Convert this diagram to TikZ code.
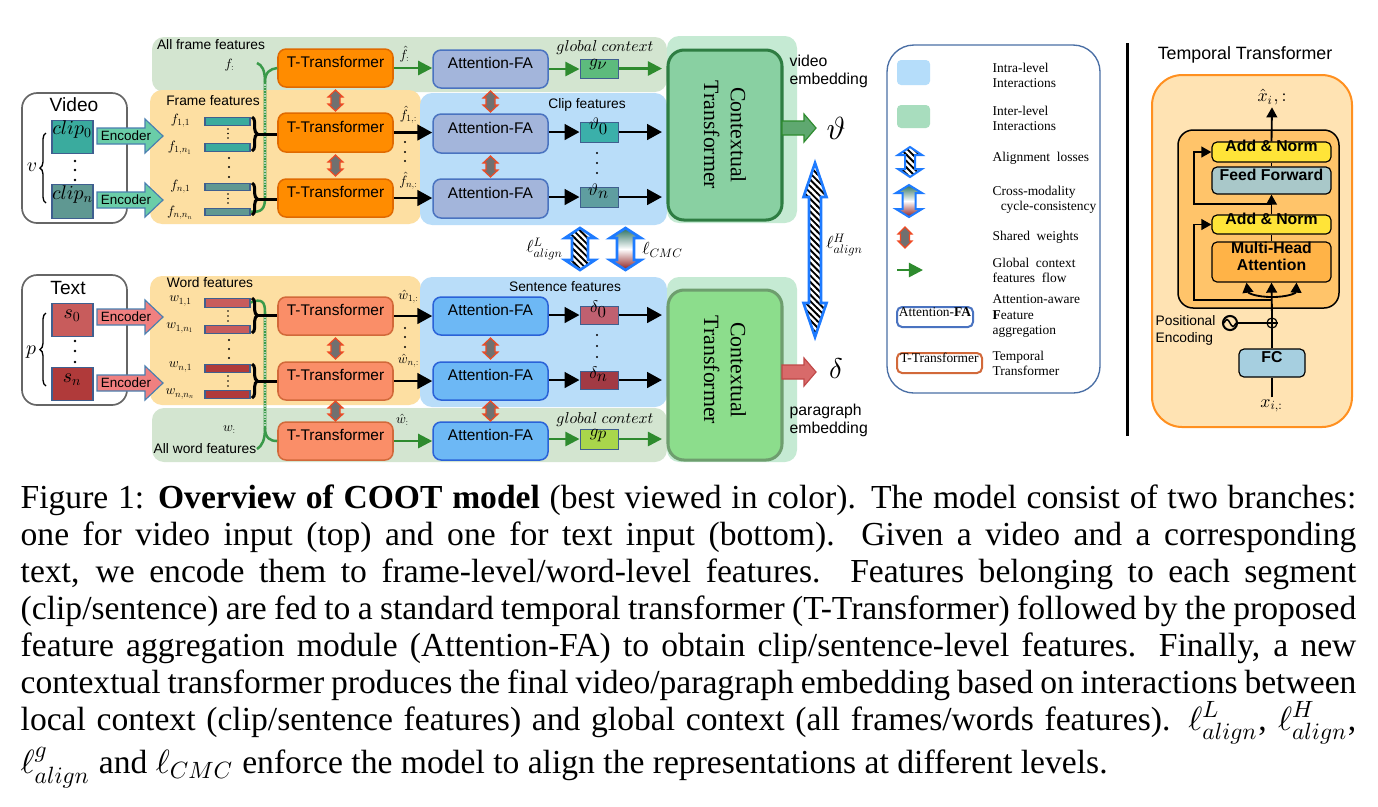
\documentclass[tikz,border=0pt]{standalone}
\usepackage[no-math]{fontspec}
\setmainfont{Liberation Serif}
\setsansfont{Liberation Sans}
\DeclareFontShape{OML}{cmm}{m}{it}{<->cmmi10}{}
\DeclareFontShape{OML}{cmm}{b}{it}{<->cmmib10}{}
\DeclareFontShape{OT1}{cmr}{m}{n}{<->cmr10}{}
\DeclareFontShape{OMS}{cmsy}{m}{n}{<->cmsy10}{}
\DeclareFontShape{OMX}{cmex}{m}{n}{<->cmex10}{}
\usetikzlibrary{arrows.meta,decorations.pathreplacing,patterns,fit,calc}
\pgfdeclarepatternformonly{mystripes}{\pgfqpoint{-1pt}{-1pt}}{\pgfqpoint{3pt}{3pt}}{\pgfqpoint{1.9pt}{1.9pt}}{\pgfsetlinewidth{0.55pt}\pgfpathmoveto{\pgfqpoint{-0.1pt}{2.0pt}}\pgfpathlineto{\pgfqpoint{2.0pt}{-0.1pt}}\pgfusepath{stroke}}
\definecolor{bandgreen}{HTML}{D3E5D0}
\definecolor{bandorange}{HTML}{FDDFA2}
\definecolor{bandblue}{HTML}{B9DDF9}
\definecolor{bandct}{HTML}{C5EAD3}
\definecolor{ctAf}{HTML}{89D0A2}
\definecolor{ctAd}{HTML}{2E7D42}
\definecolor{ctBf}{HTML}{8CDD8C}
\definecolor{ctBd}{HTML}{6E9E6E}
\definecolor{ttAf}{HTML}{FF8C00}
\definecolor{ttAd}{HTML}{E06A00}
\definecolor{ttBf}{HTML}{FA8E68}
\definecolor{ttBd}{HTML}{D2693A}
\definecolor{afaAf}{HTML}{A3B5DB}
\definecolor{afaAd}{HTML}{4A73C0}
\definecolor{afaBf}{HTML}{6DB8F5}
\definecolor{afaBd}{HTML}{2A62D8}
\definecolor{clipA}{HTML}{3AAB9E}
\definecolor{clipB}{HTML}{5F9892}
\definecolor{sentA}{HTML}{C85C5C}
\definecolor{sentB}{HTML}{B03A3A}
\definecolor{boxedge}{HTML}{3F5F8F}
\definecolor{encteal}{HTML}{6ACDA8}
\definecolor{encred}{HTML}{F08080}
\definecolor{encedge}{HTML}{4A7FB0}
\definecolor{globg}{HTML}{2E8B2E}
\definecolor{gcurve}{HTML}{3A9A4A}
\definecolor{gnu}{HTML}{5DBB7D}
\definecolor{vtA}{HTML}{3BB0AA}
\definecolor{vtB}{HTML}{5F9EA0}
\definecolor{dlA}{HTML}{C06070}
\definecolor{dlB}{HTML}{A23A44}
\definecolor{gpc}{HTML}{A9D64B}
\definecolor{outg}{HTML}{5FA870}
\definecolor{outr}{HTML}{D86A6A}
\definecolor{outrd}{HTML}{C04848}
\definecolor{alignblue}{HTML}{1E7BFF}
\definecolor{cmctop}{HTML}{2A7060}
\definecolor{cmcbot}{HTML}{8B1A1A}
\definecolor{shgrey}{HTML}{707070}
\definecolor{shred}{HTML}{F04A24}
\definecolor{legblue}{HTML}{B5DDFA}
\definecolor{leggreen}{HTML}{A8DDBE}
\definecolor{legedge}{HTML}{4A6FA5}
\definecolor{tpout}{HTML}{FFE3B3}
\definecolor{tpoutd}{HTML}{FF9020}
\definecolor{tpin}{HTML}{FFC46A}
\definecolor{addn}{HTML}{FFE438}
\definecolor{ffc}{HTML}{A9C8C9}
\definecolor{mhac}{HTML}{FFB347}
\definecolor{fcc}{HTML}{A6CFE0}
\newcommand\sansbox{\sffamily\fontsize{4.6pt}{5.5pt}\selectfont}
\newcommand\sanslab{\sffamily\fontsize{4.1pt}{4.9pt}\selectfont}
\newcommand\encf{\sffamily\fontsize{4.0pt}{4.8pt}\selectfont}
\newcommand\titlef{\sffamily\fontsize{5.7pt}{6.8pt}\selectfont}
\newcommand\embf{\sffamily\fontsize{4.7pt}{5.4pt}\selectfont}
\newcommand\ctf{\rmfamily\fontsize{6.5pt}{8pt}\selectfont}
\newcommand\legf{\rmfamily\fontsize{4.0pt}{4.5pt}\selectfont}
\newcommand\tpbold{\sffamily\bfseries\fontsize{4.7pt}{5.3pt}\selectfont}
\newcommand\tptitle{\sffamily\fontsize{5.3pt}{6pt}\selectfont}
\newcommand\mathlab{\fontsize{4.0pt}{4.8pt}\selectfont}
\newcommand\mathbox{\fontsize{5.0pt}{6pt}\selectfont}
\newcommand\clipf{\fontsize{5.9pt}{7pt}\selectfont}
\newcommand\lossf{\fontsize{5.2pt}{6pt}\selectfont}
\newcommand\gcf{\fontsize{4.7pt}{5.6pt}\selectfont}
\newcommand\capfont{\rmfamily\fontsize{10pt}{11pt}\selectfont}
\newcommand\capline[1]{\hbox to\hsize{#1}}
\newcommand\blockarrow[7]{\draw[#1] (#2,{#4-#5}) -- ({#3-#7},{#4-#5}) -- ({#3-#7},{#4-#6}) -- (#3,#4) -- ({#3-#7},{#4+#6}) -- ({#3-#7},{#4+#5}) -- (#2,{#4+#5}) -- cycle;}
\newcommand\dblarrow[7]{\path[#1] (#2,#3) -- ({#2+#6},{#3+#7}) -- ({#2+#5},{#3+#7}) -- ({#2+#5},{#4-#7}) -- ({#2+#6},{#4-#7}) -- (#2,#4) -- ({#2-#6},{#4-#7}) -- ({#2-#5},{#4-#7}) -- ({#2-#5},{#3+#7}) -- ({#2-#6},{#3+#7}) -- cycle;}
\tikzset{
 band/.style={rounded corners=3.6pt},
 inbox/.style={draw=black!60, line width=0.5pt, rounded corners=4.5pt, inner sep=0pt},
 ttA/.style={draw=ttAd, fill=ttAf, line width=0.45pt, rounded corners=2.4pt, inner sep=0pt, font=\sansbox},
 ttB/.style={ttA, draw=ttBd, fill=ttBf},
 afaA/.style={ttA, draw=afaAd, fill=afaAf},
 afaB/.style={ttA, draw=afaBd, fill=afaBf},
 smallbox/.style={draw=boxedge, line width=0.3pt, inner sep=0pt, font=\mathbox},
 bar/.style={draw=boxedge, line width=0.3pt, inner sep=0pt},
 ctbox/.style={line width=0.9pt, rounded corners=4.8pt, inner sep=0pt},
 mlab/.style={font=\mathlab, inner sep=0.5pt},
 blk/.style={line width=0.8pt, -{Triangle[length=4.4pt,width=4.6pt]}},
 grn/.style={draw=globg, line width=0.7pt, -{Triangle[length=4.2pt,width=4.2pt]}},
 brk/.style={decorate, decoration={brace, amplitude=1.6pt}, line width=0.9pt},
 lbrk/.style={decorate, decoration={brace, amplitude=1.8pt}, line width=0.4pt},
 gline/.style={draw=gcurve, line width=0.75pt},
 gdots/.style={draw=gcurve!40!white, line width=0.3pt, dash pattern=on 0.4pt off 0.4pt},
 shw/.style={fill=shgrey, draw=shred, line width=0.35pt},
 hatch/.style={preaction={fill=white}, pattern=mystripes, draw=alignblue, line width=0.8pt},
 cmc/.style={top color=cmctop, bottom color=cmcbot, middle color=white, draw=alignblue, line width=0.8pt},
 tl/.style={line width=0.55pt},
 tarr/.style={tl, -{Triangle[length=3pt,width=3.2pt]}},
 tpbox/.style={draw=black, line width=0.35pt, rounded corners=1.5pt, inner sep=0pt, font=\tpbold, align=center},
 legtext/.style={anchor=west, align=left, font=\legf, inner sep=0pt},
}
\begin{document}
\begin{tikzpicture}[x=0.2976pt,y=-0.2976pt]
\useasboundingbox (0,0) rectangle (1378,806);
\fill[white] (0,0) rectangle (1378,806);
% ---------------- bands
\fill[bandgreen,band] (152,37) rectangle (667,92);
\fill[bandgreen,band] (152,408) rectangle (667,462);
\fill[bandorange,band] (150,90) rectangle (421,224);
\fill[bandorange,band] (150,276) rectangle (421,405);
\fill[bandblue,band] (420,93) rectangle (667,225);
\fill[bandblue,band] (420,277) rectangle (667,407);
\fill[bandct,band] (667,36) rectangle (797,223);
\fill[bandct,band] (667,277) rectangle (797,462);
% ---------------- band labels
\node[font=\sanslab] (lallf) at (211,45) {All frame features};
\node[font=\sanslab] (lframe) at (213,101) {Frame features};
\node[font=\sanslab] (lclip) at (587,105) {Clip features};
\node[font=\sanslab] (lword) at (210,283) {Word features};
\node[font=\sanslab] (lsent) at (565,287) {Sentence features};
\node[font=\sanslab] (lallw) at (205,449) {All word features};
\node[mlab] (fcol) at (230,65) {$f_{:}$};
\node[mlab] (wcol) at (230,430) {$w_{:}$};
% ---------------- video input
\node[inbox, fit={(22,93)(127,223)}] (videobox) {};
\node[font=\titlef] (tvideo) at (74,105) {Video};
\node[smallbox, fill=clipA, fit={(52,120)(93,153)}, font=\clipf] (clip0) {$clip_0$};
\node[smallbox, fill=clipB, fit={(52,184)(93,218)}, font=\clipf] (clipn) {$clip_n$};
\foreach \yy in {161,170,180} \fill (75,\yy) circle (1.3);
\draw[lbrk] (46,203) -- (46,133);
\node[font=\clipf] (vlab) at (32,167) {$v$};
% ---------------- text input
\node[inbox, fit={(22,275)(127,405)}] (textbox) {};
\node[font=\titlef] (ttext) at (68,288) {Text};
\node[smallbox, fill=sentA, fit={(52,303)(93,336)}, font=\clipf] (s0) {$s_0$};
\node[smallbox, fill=sentB, fit={(52,367)(93,400)}, font=\clipf] (sn) {$s_n$};
\foreach \yy in {341,351,362} \fill (75,\yy) circle (1.3);
\draw[lbrk] (46,386) -- (46,313);
\node[font=\clipf] (plab) at (31,352) {$p$};
% ---------------- encoders
\blockarrow{fill=encteal, draw=encedge, line width=0.35pt}{97}{163}{136}{8}{17}{18}
\blockarrow{fill=encteal, draw=encedge, line width=0.35pt}{97}{163}{200}{8}{17}{18}
\blockarrow{fill=encred, draw=encedge, line width=0.35pt}{97}{163}{317}{8}{17}{18}
\blockarrow{fill=encred, draw=encedge, line width=0.35pt}{97}{163}{383}{8}{17}{18}
\node[font=\encf] (enc1) at (126,136) {Encoder};
\node[font=\encf] (enc2) at (126,200) {Encoder};
\node[font=\encf] (enc3) at (126,317) {Encoder};
\node[font=\encf] (enc4) at (126,383) {Encoder};
% ---------------- frame feature bars
\node[bar, fill=clipA, fit={(205,117)(250,125)}] (f11) {};
\node[bar, fill=clipA, fit={(205,143)(250,151)}] (f1n) {};
\node[bar, fill=clipB, fit={(205,183)(250,190)}] (fn1) {};
\node[bar, fill=clipB, fit={(205,208)(250,215)}] (fnn) {};
\node[mlab] (lf11) at (181,121) {$f_{1,1}$};
\node[mlab] (lf1n) at (181,148) {$f_{1,n_1}$};
\node[mlab] (lfn1) at (181,187) {$f_{n,1}$};
\node[mlab] (lfnn) at (181,213) {$f_{n,n_n}$};
\foreach \yy in {129,133.5,138} \fill (228,\yy) circle (0.9);
\foreach \yy in {194,198.5,203} \fill (228,\yy) circle (0.9);
\foreach \yy in {158,167,177} \fill (229,\yy) circle (1.1);
% word feature bars
\node[bar, fill=sentA, fit={(205,298)(250,307)}] (w11) {};
\node[bar, fill=sentA, fit={(205,325)(250,333)}] (w1n) {};
\node[bar, fill=sentB, fit={(205,364)(250,372)}] (wn1) {};
\node[bar, fill=sentB, fit={(205,390)(250,398)}] (wnn) {};
\node[mlab] (lw11) at (181,301) {$w_{1,1}$};
\node[mlab] (lw1n) at (181,328) {$w_{1,n_1}$};
\node[mlab] (lwn1) at (181,367) {$w_{n,1}$};
\node[mlab] (lwnn) at (181,394) {$w_{n,n_n}$};
\foreach \yy in {311,316,321} \fill (228,\yy) circle (0.9);
\foreach \yy in {376,381,386} \fill (228,\yy) circle (0.9);
\foreach \yy in {340,349,358} \fill (229,\yy) circle (1.1);
% ---------------- T-Transformers
\node[ttA, fit={(278,49)(393,87)}] (tt0) {T-Transformer};
\node[ttA, fit={(278,113)(393,152)}] (tt1) {T-Transformer};
\node[ttA, fit={(278,179)(393,217)}] (tt2) {T-Transformer};
\node[ttB, fit={(278,297)(393,335)}] (tb1) {T-Transformer};
\node[ttB, fit={(278,362)(393,400)}] (tb2) {T-Transformer};
\node[ttB, fit={(278,422)(393,460)}] (tb0) {T-Transformer};
% ---------------- Attention-FA
\node[afaA, fit={(433,50)(548,88)}] (at0) {Attention-FA};
\node[afaA, fit={(433,114)(548,153)}] (at1) {Attention-FA};
\node[afaA, fit={(433,179)(548,218)}] (at2) {Attention-FA};
\node[afaB, fit={(433,297)(548,335)}] (ab1) {Attention-FA};
\node[afaB, fit={(433,362)(548,400)}] (ab2) {Attention-FA};
\node[afaB, fit={(433,422)(548,460)}] (ab0) {Attention-FA};
% ---------------- green global curves
\draw[gline] (fnn.east) .. controls (262,213) and (265,208) .. (265,198) -- (265,82);
\draw[gdots] (265,196) -- (265,84);
\draw[gline] (265,82) .. controls (265,72) and (270,69) .. (tt0.west);
\draw[gline] (265,82) .. controls (265,70) and (262,65) .. (257,63);
\draw[gline] (w11.east) .. controls (262,298) and (265,302) .. (265,312) -- (265,428);
\draw[gdots] (265,314) -- (265,426);
\draw[gline] (265,428) .. controls (265,438) and (270,441) .. (tb0.west);
\draw[gline] (265,428) .. controls (265,440) and (262,446) .. (257,449);
% ---------------- brackets
\draw[brk] (252,117) -- (252,151);
\draw[brk] (252,183) -- (252,215);
\draw[brk] (252,298) -- (252,333);
\draw[brk] (252,364) -- (252,398);
\coordinate (bk1) at (257,134);
\coordinate (bk2) at (257,199);
\coordinate (bk3) at (257,315.5);
\coordinate (bk4) at (257,381);
\draw[line width=0.9pt] (bk1) -- (bk1 -| tt1.west);
\draw[line width=0.9pt] (bk2) -- (bk2 -| tt2.west);
\draw[line width=0.9pt] (bk3) -- (bk3 -| tb1.west);
\draw[line width=0.9pt] (bk4) -- (bk4 -| tb2.west);
% ---------------- shared weights
\dblarrow{shw}{335.5}{90}{111}{4.5}{7.5}{7}
\dblarrow{shw}{335.5}{155}{176}{4.5}{7.5}{7}
\dblarrow{shw}{335.5}{338}{359}{4.5}{7.5}{7}
\dblarrow{shw}{335.5}{401}{421}{4.5}{7.5}{7}
\dblarrow{shw}{490.5}{91}{112}{4.5}{7.5}{7}
\dblarrow{shw}{490.5}{156}{177}{4.5}{7.5}{7}
\dblarrow{shw}{490.5}{338}{359}{4.5}{7.5}{7}
\dblarrow{shw}{490.5}{401}{421}{4.5}{7.5}{7}
% ---------------- T -> AFA arrows
\draw[grn] (tt0.east) -- (tt0.east -| at0.west);
\draw[blk] (tt1.east) -- (tt1.east -| at1.west);
\draw[blk] (tt2.east) -- (tt2.east -| at2.west);
\draw[blk] (tb1.east) -- (tb1.east -| ab1.west);
\draw[blk] (tb2.east) -- (tb2.east -| ab2.west);
\draw[grn] (tb0.east) -- (tb0.east -| ab0.west);
\node[mlab] (hf0) at (405,54) {$\hat{f}_{:}$};
\node[mlab] (hf1) at (409,115) {$\hat{f}_{1,:}$};
\node[mlab] (hfn) at (409,181) {$\hat{f}_{n,:}$};
\foreach \yy in {142,152,161} \fill (405,\yy) circle (1.1);
\node[mlab] (hw1) at (409,297) {$\hat{w}_{1,:}$};
\node[mlab] (hwn) at (409,361) {$\hat{w}_{n,:}$};
\node[mlab] (hw0) at (403,420) {$\hat{w}_{:}$};
\foreach \yy in {328,337,347} \fill (405,\yy) circle (1.1);
% ---------------- clip / sentence features
\node[smallbox, fill=gnu, fit={(580,59)(618,78)}] (gv) {$g_{\nu}$};
\node[smallbox, fill=vtA, fit={(580,122)(618,142)}] (v0) {$\vartheta_0$};
\node[smallbox, fill=vtB, fit={(580,187)(618,207)}] (vn) {$\vartheta_n$};
\node[smallbox, fill=dlA, fit={(580,306)(618,324)}] (d0) {$\delta_0$};
\node[smallbox, fill=dlB, fit={(580,371)(618,389)}] (dn) {$\delta_n$};
\node[smallbox, fill=gpc, fit={(580,429)(618,449)}] (gp) {$g_{p}$};
\node[font=\gcf] (gc1) at (605,48) {$global\;context$};
\node[font=\gcf] (gc2) at (605,420) {$global\;context$};
\foreach \yy in {153,163,173} \fill (597,\yy) circle (1.1);
\foreach \yy in {335,346,357} \fill (597,\yy) circle (1.1);
\coordinate (ctin0) at (662,68.5);
\coordinate (ctin1) at (662,132);
\coordinate (ctin2) at (662,197);
\coordinate (cbin1) at (662,315);
\coordinate (cbin2) at (662,380);
\coordinate (cbin0) at (662,439);
\draw[grn] (at0.east) -- (at0.east -| gv.west);
\draw[grn] (gv.east) -- (ctin0);
\draw[blk] (at1.east |- v0.west) -- (v0.west);
\draw[blk] (v0.east) -- (ctin1);
\draw[blk] (at2.east |- vn.west) -- (vn.west);
\draw[blk] (vn.east) -- (ctin2);
\draw[blk] (ab1.east |- d0.west) -- (d0.west);
\draw[blk] (d0.east) -- (cbin1);
\draw[blk] (ab2.east |- dn.west) -- (dn.west);
\draw[blk] (dn.east) -- (cbin2);
\draw[grn] (ab0.east |- gp.west) -- (gp.west);
\draw[grn] (gp.east) -- (cbin0);
% ---------------- contextual transformers
\node[ctbox, fill=ctAf, draw=ctAd, fit={(668,50)(782,220)}] (ctA) {};
\node[ctbox, fill=ctBf, draw=ctBd, fit={(668,290)(782,460)}] (ctB) {};
\node[rotate=-90, font=\ctf, align=center] (ctAt) at (ctA.center) {Contextual\\Transformer};
\node[rotate=-90, font=\ctf, align=center] (ctBt) at ($(ctB.center)+(0,-5)$) {Contextual\\Transformer};
\blockarrow{fill=outg, draw=globg, line width=0.35pt}{782}{816}{128}{7}{14}{12}
\blockarrow{fill=outr, draw=outrd, line width=0.35pt}{782}{816}{372}{7}{14}{12}
\node[font=\fontsize{9.5pt}{11pt}\selectfont] (theta) at (836,128) {$\vartheta$};
\node[font=\fontsize{8.5pt}{10pt}\selectfont] (delta) at (836,369) {$\delta$};
\node[font=\embf, anchor=west, align=left, inner sep=0pt] (vemb) at (789,71) {video\\embedding};
\node[font=\embf, anchor=west, align=left, inner sep=0pt] (pemb) at (789,420) {paragraph\\embedding};
% ---------------- alignment losses
\dblarrow{hatch}{580}{228}{270}{8}{15}{10}
\dblarrow{cmc}{625.5}{228}{270}{8.5}{15.5}{10}
\dblarrow{hatch}{815}{163}{337}{6}{11.5}{34}
\node[font=\lossf] (lL) at (545,249) {$\ell^{L}_{align}$};
\node[font=\lossf] (lC) at (663,250) {$\ell_{CMC}$};
\node[font=\lossf] (lH) at (845,245) {$\ell^{H}_{align}$};
% ---------------- legend
\node[draw=legedge, line width=0.4pt, rounded corners=8pt, inner sep=0pt, fit={(887,45)(1100,393)}] (legend) {};
\fill[legblue, rounded corners=1.2pt] (897,60) rectangle (930,85);
\fill[leggreen, rounded corners=1.2pt] (897,105) rectangle (930,128);
\dblarrow{hatch, line width=0.6pt}{910}{147}{177}{5}{12}{8}
\dblarrow{cmc, line width=0.6pt}{909}{185}{217}{6.5}{13}{8}
\dblarrow{shw}{905}{227}{248}{4.5}{7}{7}
\coordinate (lga) at (897,270);
\coordinate (lgb) at (923,270);
\draw[grn] (lga) -- (lgb);
\node[draw=afaAd, line width=0.6pt, fill=white, rounded corners=1.5pt, inner sep=0pt, font=\legf, fit={(897,307)(973,327)}] (legafa) {Attention-\textbf{FA}};
\node[draw=ttBd, line width=0.6pt, fill=white, rounded corners=1.5pt, inner sep=0pt, font=\legf, fit={(897,353)(982,373)}] (legtt) {T-Transformer};
\node[legtext] (lt1) at (992,75) {Intra-level\\Interactions};
\node[legtext] (lt2) at (992,118) {Inter-level\\Interactions};
\node[legtext] (lt3) at (992,158) {Alignment\ \ losses};
\node[legtext] (lt4) at (992,200) {Cross-modality\\\hspace*{2.4pt}cycle-consistency};
\node[legtext] (lt5) at (992,237) {Shared\ \ weights};
\node[legtext] (lt6) at (992,270) {Global\ \ context\\features\ \ flow};
\node[legtext] (lt7) at (992,316) {Attention-aware\\\textbf{F}eature\\aggregation};
\node[legtext] (lt8) at (992,363) {Temporal\\Transformer};
% ---------------- divider
\draw[line width=0.9pt] (1127,43) -- (1127,436);
% ---------------- temporal transformer panel
\node[font=\tptitle] (tptitle) at (1245,55) {Temporal Transformer};
\node[draw=tpoutd, fill=tpout, line width=0.6pt, rounded corners=9pt, inner sep=0pt, fit={(1152,75)(1352,427)}] (tpouter) {};
\node[draw=black, fill=tpin, line width=0.45pt, rounded corners=4.5pt, inner sep=0pt, fit={(1178,130)(1339,308)}] (tpinner) {};
\node[tpbox, fill=addn, fit={(1212,142)(1331,162)}] (an2) {Add \& Norm};
\node[tpbox, fill=ffc, fit={(1212,167)(1331,194)}] (ff) {Feed Forward};
\node[tpbox, fill=addn, fit={(1212,215)(1331,234)}] (an1) {Add \& Norm};
\node[tpbox, fill=mhac, fit={(1212,242)(1331,282)}] (mha) {Multi-Head\\Attention};
\node[tpbox, fill=fcc, fit={(1239,349)(1305,377)}] (fc) {FC};
\node[font=\fontsize{5.3pt}{6pt}\selectfont, inner sep=0.5pt] (xin) at (1272,406) {$x_{i,:}$};
\node[font=\fontsize{5.3pt}{6pt}\selectfont, inner sep=0.5pt] (xout) at (1272,97) {$\hat{x}_{i},:$};
\node[circle, draw, line width=0.35pt, minimum size=3pt, inner sep=0pt] (plus) at (1272,323) {};
\draw[line width=0.35pt] (plus.north) -- (plus.south) (plus.west) -- (plus.east);
\node[circle, draw, line width=0.6pt, minimum size=4.2pt, inner sep=0pt] (pe) at (1230,323) {};
\draw[line width=0.45pt] (1224,323) sin (1227,319.5) cos (1230,323) sin (1233,326.5) cos (1236,323);
\node[anchor=west, align=left, font=\sanslab, inner sep=0pt] (pelab) at (1155,330.5) {Positional\\Encoding};
\draw[tl] (xin.north) -- (fc.south);
\draw[tl] (fc.north) -- (plus.south);
\draw[tl] (pe.east) -- (plus.west);
\draw[tarr] (plus.north) -- (mha.south);
\coordinate (br) at (1272,297);
\draw[tarr] (br) .. controls (1256,297) and (1248,293) .. ($(mha.south)+(-25,0)$);
\draw[tarr] (br) .. controls (1288,297) and (1296,293) .. ($(mha.south)+(25,0)$);
\coordinate (r1) at (1272,300);
\draw[tarr] (r1) -- (1194,300) |- (an1.west);
\draw[tl] (mha.north) -- (an1.south);
\draw[tarr] (an1.north) -- (ff.south);
\coordinate (r2) at (1272,204);
\draw[tarr] (r2) -- (1194,204) |- (an2.west);
\draw[tl] (ff.north) -- (an2.south);
\draw[tarr] (an2.north) -- (xout.south);
% ---------------- caption
\node[anchor=north west, inner sep=0pt, font=\capfont] (caption) at (20,484) {\parbox{397.5pt}{%
\capline{Figure 1: \textbf{Overview of COOT model} (best viewed in color). The model consist of two branches:}
\capline{one for video input (top) and one for text input (bottom). Given a video and a corresponding}
\capline{text, we encode them to frame-level/word-level features. Features belonging to each segment}
\capline{(clip/sentence) are fed to a standard temporal transformer (T-Transformer) followed by the proposed}
\capline{feature aggregation module (Attention-FA) to obtain clip/sentence-level features. Finally, a new}
\capline{contextual transformer produces the final video/paragraph embedding based on interactions between}
\capline{local context (clip/sentence features) and global context (all frames/words features). $\ell^L_{align}$, $\ell^H_{align}$,}
\hbox{$\ell^g_{align}$ and $\ell_{CMC}$ enforce the model to align the representations at different levels.}}};
\end{tikzpicture}
\end{document}
